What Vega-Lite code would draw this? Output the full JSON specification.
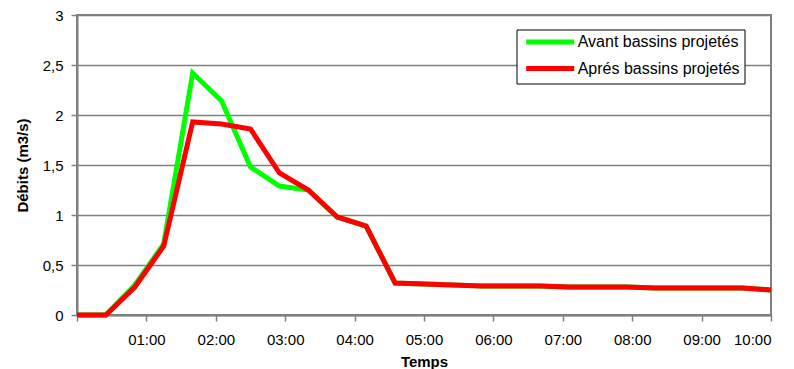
{
  "$schema": "https://vega.github.io/schema/vega-lite/v6.json",
  "autosize": "none",
  "width": 694,
  "height": 300,
  "padding": {"left": 77, "top": 15, "right": 23, "bottom": 54},
  "background": "white",
  "config": {
    "font": "Liberation Sans",
    "view": {"stroke": "#808080", "strokeWidth": 2},
    "axis": {
      "domainColor": "#808080",
      "domainWidth": 2,
      "tickColor": "#808080",
      "tickWidth": 1.5,
      "tickSize": 6,
      "gridColor": "#808080",
      "gridWidth": 1.5,
      "gridOpacity": 1,
      "labelFont": "Liberation Sans",
      "labelFontSize": 15,
      "labelColor": "black",
      "titleFont": "Liberation Sans",
      "titleFontSize": 15,
      "titleFontWeight": "bold",
      "titleColor": "black"
    }
  },
  "data": {
    "values": [
      {"minutes": 0, "debit": 0, "serie": "Avant bassins projetés"},
      {"minutes": 25, "debit": 0, "serie": "Avant bassins projetés"},
      {"minutes": 50, "debit": 0.3, "serie": "Avant bassins projetés"},
      {"minutes": 75, "debit": 0.71, "serie": "Avant bassins projetés"},
      {"minutes": 100, "debit": 2.42, "serie": "Avant bassins projetés"},
      {"minutes": 125, "debit": 2.14, "serie": "Avant bassins projetés"},
      {"minutes": 150, "debit": 1.48, "serie": "Avant bassins projetés"},
      {"minutes": 175, "debit": 1.29, "serie": "Avant bassins projetés"},
      {"minutes": 200, "debit": 1.25, "serie": "Avant bassins projetés"},
      {"minutes": 225, "debit": 0.98, "serie": "Avant bassins projetés"},
      {"minutes": 250, "debit": 0.89, "serie": "Avant bassins projetés"},
      {"minutes": 275, "debit": 0.32, "serie": "Avant bassins projetés"},
      {"minutes": 300, "debit": 0.31, "serie": "Avant bassins projetés"},
      {"minutes": 325, "debit": 0.3, "serie": "Avant bassins projetés"},
      {"minutes": 350, "debit": 0.29, "serie": "Avant bassins projetés"},
      {"minutes": 375, "debit": 0.29, "serie": "Avant bassins projetés"},
      {"minutes": 400, "debit": 0.29, "serie": "Avant bassins projetés"},
      {"minutes": 425, "debit": 0.28, "serie": "Avant bassins projetés"},
      {"minutes": 450, "debit": 0.28, "serie": "Avant bassins projetés"},
      {"minutes": 475, "debit": 0.28, "serie": "Avant bassins projetés"},
      {"minutes": 500, "debit": 0.27, "serie": "Avant bassins projetés"},
      {"minutes": 525, "debit": 0.27, "serie": "Avant bassins projetés"},
      {"minutes": 550, "debit": 0.27, "serie": "Avant bassins projetés"},
      {"minutes": 575, "debit": 0.27, "serie": "Avant bassins projetés"},
      {"minutes": 600, "debit": 0.25, "serie": "Avant bassins projetés"},
      {"minutes": 0, "debit": 0, "serie": "Aprés bassins projetés"},
      {"minutes": 25, "debit": 0, "serie": "Aprés bassins projetés"},
      {"minutes": 50, "debit": 0.28, "serie": "Aprés bassins projetés"},
      {"minutes": 75, "debit": 0.69, "serie": "Aprés bassins projetés"},
      {"minutes": 100, "debit": 1.93, "serie": "Aprés bassins projetés"},
      {"minutes": 125, "debit": 1.91, "serie": "Aprés bassins projetés"},
      {"minutes": 150, "debit": 1.86, "serie": "Aprés bassins projetés"},
      {"minutes": 175, "debit": 1.42, "serie": "Aprés bassins projetés"},
      {"minutes": 200, "debit": 1.25, "serie": "Aprés bassins projetés"},
      {"minutes": 225, "debit": 0.98, "serie": "Aprés bassins projetés"},
      {"minutes": 250, "debit": 0.89, "serie": "Aprés bassins projetés"},
      {"minutes": 275, "debit": 0.32, "serie": "Aprés bassins projetés"},
      {"minutes": 300, "debit": 0.31, "serie": "Aprés bassins projetés"},
      {"minutes": 325, "debit": 0.3, "serie": "Aprés bassins projetés"},
      {"minutes": 350, "debit": 0.29, "serie": "Aprés bassins projetés"},
      {"minutes": 375, "debit": 0.29, "serie": "Aprés bassins projetés"},
      {"minutes": 400, "debit": 0.29, "serie": "Aprés bassins projetés"},
      {"minutes": 425, "debit": 0.28, "serie": "Aprés bassins projetés"},
      {"minutes": 450, "debit": 0.28, "serie": "Aprés bassins projetés"},
      {"minutes": 475, "debit": 0.28, "serie": "Aprés bassins projetés"},
      {"minutes": 500, "debit": 0.27, "serie": "Aprés bassins projetés"},
      {"minutes": 525, "debit": 0.27, "serie": "Aprés bassins projetés"},
      {"minutes": 550, "debit": 0.27, "serie": "Aprés bassins projetés"},
      {"minutes": 575, "debit": 0.27, "serie": "Aprés bassins projetés"},
      {"minutes": 600, "debit": 0.25, "serie": "Aprés bassins projetés"}
    ]
  },
  "mark": {"type": "line", "strokeWidth": 5, "strokeJoin": "miter"},
  "encoding": {
    "x": {
      "field": "minutes",
      "type": "quantitative",
      "scale": {"domain": [0, 600], "nice": false},
      "axis": {
        "title": "Temps",
        "grid": false,
        "values": [0, 60, 120, 180, 240, 300, 360, 420, 480, 540, 600],
        "labelExpr": "datum.value == 0 ? '' : format(datum.value / 60, '02d') + ':00'",
        "labelPadding": 11,
        "titlePadding": 7
      }
    },
    "y": {
      "field": "debit",
      "type": "quantitative",
      "scale": {"domain": [0, 3], "nice": false},
      "axis": {
        "title": "Débits (m3/s)",
        "values": [0, 0.5, 1, 1.5, 2, 2.5, 3],
        "labelExpr": "replace(format(datum.value, '~g'), '.', ',')",
        "labelPadding": 8,
        "titlePadding": 12
      }
    },
    "color": {
      "field": "serie",
      "type": "nominal",
      "sort": null,
      "scale": {
        "domain": ["Avant bassins projetés", "Aprés bassins projetés"],
        "range": ["#00FF00", "#FF0000"]
      },
      "legend": {
        "title": null,
        "orient": "none",
        "legendX": 439.5,
        "legendY": 14.5,
        "fillColor": "white",
        "strokeColor": "black",
        "padding": 4.5,
        "symbolType": "M-9.6,0H9.6",
        "symbolSize": 25,
        "symbolStrokeWidth": 5,
        "symbolOffset": 21.2,
        "labelFont": "Liberation Sans",
        "labelFontSize": 16,
        "labelColor": "black",
        "labelOffset": 19.5,
        "labelLimit": 400,
        "rowPadding": 6.5
      }
    },
    "order": {"field": "minutes"}
  }
}
